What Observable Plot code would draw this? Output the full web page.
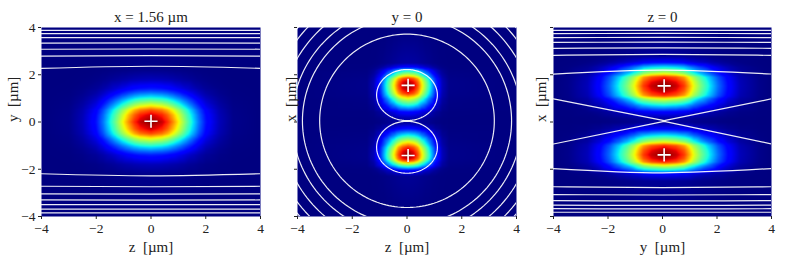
<!DOCTYPE html>
<html><head><meta charset="utf-8">
<script src="https://cdn.jsdelivr.net/npm/d3@7"></script>
<script src="https://cdn.jsdelivr.net/npm/@observablehq/plot@0.6"></script>
<style>
body{margin:0;background:#fff;}
#wrap{position:relative;width:801px;height:267px;overflow:hidden;}
#wrap > svg, #wrap > figure{position:absolute;top:0;margin:0;}
#wrap text{font-family:"Liberation Serif", serif;}
</style></head><body><div id="wrap"></div>
<script>
// ---------- Panel 1: slice x = 1.56 µm (z horizontal, y vertical) ----------
const p1zPos = [-4, -3, -2.5, -2, -1.75, -1.5, -1.3, -1.05, -0.8, -0.6, -0.4, 0, 0.4, 0.6, 0.8, 1.05, 1.3, 1.5, 1.75, 2, 2.5, 3, 4];
const p1zVal = [0, .01, .05, .14, .24, .37, .48, .63, .77, .87, .94, 1, .94, .87, .77, .63, .48, .37, .24, .14, .05, .01, 0];
const p1yPos = [-4, -2.2, -1.8, -1.4, -1.25, -1.05, -0.9, -0.7, -0.5, -0.3, 0, 0.3, 0.5, 0.7, 0.9, 1.05, 1.25, 1.4, 1.8, 2.2, 4];
const p1yVal = [0, .01, .05, .15, .23, .36, .48, .64, .83, .93, 1, .93, .83, .64, .48, .36, .23, .15, .05, .01, 0];
const p1LineEdge = [2.27, 2.79, 3.08, 3.34, 3.57, 3.74, 3.88, -2.19, -2.72, -3.04, -3.3, -3.5, -3.69, -3.85];
const p1LineMid  = [2.36, 2.81, 3.09, 3.35, 3.57, 3.74, 3.88, -2.28, -2.74, -3.05, -3.31, -3.5, -3.69, -3.85];
const p1Peaks = [{x: 0, y: 0.03}];

// ---------- Panel 2: slice y = 0 (z horizontal, x vertical) ----------
const p2zPos = [-4, -1.46, -1.21, -0.96, -0.71, -0.46, -0.31, -0.16, 0.04, 0.24, 0.39, 0.54, 0.79, 1.04, 1.29, 1.54, 4];
const p2zVal = [0, .01, .05, .18, .42, .67, .84, .94, 1, .94, .84, .67, .42, .18, .05, .01, 0];
const p2xPos = [-4, -2.3, -2.05, -1.91, -1.76, -1.63, -1.54, -1.39, -1.24, -1.07, -0.85, -0.57, -0.28, -0.05, 0.15, 0.42, 0.7, 0.98, 1.2, 1.4, 1.55, 1.7, 1.84, 1.97, 2.18, 2.32, 2.5, 4];
const p2xVal = [0, .02, .13, .36, .63, .87, .96, 1, .96, .87, .65, .38, .13, .03, .04, .13, .38, .62, .87, .97, 1, .96, .87, .63, .36, .13, .03, 0];
const p2RingRadii = [3.19, 3.82, 4.2, 4.62, 5.0, 5.26];
const p2RingAspect = 1.15;
const p2RingCenter = {z: 0, x: 0.05};
const p2LobeCz = [0.0, 0.0];
const p2LobeCx = [1.14, -1.07];
const p2LobeRz = [1.11, 1.11];
const p2LobeRx = [1.08, 1.1];
const p2Peaks = [{x: 0.04, y: 1.55}, {x: 0.04, y: -1.42}];

// ---------- Panel 3: slice z = 0 (y horizontal, x vertical) ----------
const p3yPos = [-4, -3.45, -2.75, -2.3, -1.95, -1.6, -1.3, -1.05, -0.7, -0.4, 0.06, 0.5, 0.8, 1.15, 1.4, 1.7, 2.05, 2.4, 2.85, 3.55, 4];
const p3yVal = [0, .01, .05, .13, .23, .37, .5, .63, .85, .94, 1, .94, .85, .63, .5, .37, .23, .13, .05, .01, 0];
const p3xPos = [-4, -2.5, -2.2, -2.05, -1.84, -1.7, -1.55, -1.39, -1.2, -1.0, -0.85, -0.57, -0.29, -0.02, 0.15, 0.42, 0.7, 0.98, 1.12, 1.33, 1.53, 1.7, 1.9, 2.04, 2.32, 2.53, 2.8, 4];
const p3xVal = [0, .02, .12, .36, .63, .87, .96, 1, .96, .87, .63, .36, .12, .02, .03, .12, .36, .63, .87, .96, 1, .96, .87, .63, .36, .12, .02, 0];
const p3LineEdge = [2.03, 2.82, 3.12, 3.37, 3.57, 3.74, 3.88, -1.97, -2.74, -3.07, -3.33, -3.52, -3.67, -3.82];
const p3LineMid  = [2.2, 2.86, 3.14, 3.38, 3.58, 3.75, 3.88, -2.15, -2.78, -3.09, -3.34, -3.53, -3.68, -3.82];
const p3CrossEdge = [0.98, -0.93];
const p3CrossMid = [0.06, 0.03];
const p3Peaks = [{x: 0.06, y: 1.53}, {x: 0.06, y: -1.39}];

// ---------- shared ----------
const titles = ["x = 1.56 µm", "y = 0", "z = 0"];
const xLabels = ["z\u2002[µm]", "z\u2002[µm]", "y\u2002[µm]"];
const yLabels = ["y\u2002[µm]", "x\u2002[µm]", "x\u2002[µm]"];
const ticks = [-4, -2, 0, 2, 4];
const jetStops = [0, 0.11, 0.125, 0.34, 0.35, 0.375, 0.64, 0.65, 0.66, 0.89, 0.91, 1];
const jetColors = ["rgb(0,0,128)", "rgb(0,0,255)", "rgb(0,0,255)", "rgb(0,219,255)", "rgb(0,230,247)", "rgb(21,255,226)", "rgb(239,255,8)", "rgb(247,245,0)", "rgb(255,236,0)", "rgb(255,19,0)", "rgb(232,0,0)", "rgb(128,0,0)"];
const serif = "Liberation Serif";

// table builders
function grid(hPos, hVal, vPos, vVal) {
  const out = [];
  vPos.forEach((vy, j) => hPos.forEach((hx, i) => out.push({x: hx, y: vy, v: hVal[i] * vVal[j]})));
  return out;
}
function bowLines(edge, mid) {
  const out = [];
  edge.forEach((e, i) => { out.push({id: i, x: -4, y: e}, {id: i, x: 0, y: mid[i]}, {id: i, x: 4, y: e}); });
  return out;
}
function ellipses(cz, cx, rz, rx, prefix) {
  const out = [];
  cz.forEach((c, i) => {
    for (let a = 0; a <= 360; a += 2) {
      const t = a * Math.PI / 180;
      out.push({id: prefix + i, x: c + rz[i] * Math.cos(t), y: cx[i] + rx[i] * Math.sin(t)});
    }
  });
  return out;
}

const rings = ellipses(p2RingRadii.map(() => p2RingCenter.z), p2RingRadii.map(() => p2RingCenter.x),
  p2RingRadii, p2RingRadii.map(r => r * p2RingAspect), "r");
const lobes = ellipses(p2LobeCz, p2LobeCx, p2LobeRz, p2LobeRx, "l");
const cross = [];
p3CrossEdge.forEach((e, i) => cross.push({id: i, x: -4, y: e}, {id: i, x: 0.06, y: p3CrossMid[i]}, {id: i, x: 4, y: e}));

const panels = [
  {left: 0, ml: 41, mr: 7, yDx: -28, yTickLabels: true, data: grid(p1zPos, p1zVal, p1yPos, p1yVal),
   curves: [{d: bowLines(p1LineEdge, p1LineMid), curve: "natural"}], peaks: p1Peaks},
  {left: 267, ml: 30, mr: 18, yDx: -6, yTickLabels: false, data: grid(p2zPos, p2zVal, p2xPos, p2xVal),
   curves: [{d: rings, curve: "linear"}, {d: lobes, curve: "linear"}], peaks: p2Peaks},
  {left: 534, ml: 19, mr: 30, yDx: -12, yTickLabels: false, data: grid(p3yPos, p3yVal, p3xPos, p3xVal),
   curves: [{d: bowLines(p3LineEdge, p3LineMid), curve: "natural"}, {d: cross, curve: "linear"}], peaks: p3Peaks}
];

const wrap = document.getElementById("wrap");
panels.forEach((p, k) => {
  const chart = Plot.plot({
    width: 267, height: 267,
    marginLeft: p.ml, marginRight: p.mr, marginTop: 27, marginBottom: 51,
    x: {domain: [-4, 4]},
    y: {domain: [-4, 4]},
    color: {type: "linear", domain: jetStops, range: jetColors, interpolate: "rgb", clamp: true},
    style: {fontFamily: serif, fontSize: "13px", color: "#222", background: "transparent", overflow: "visible"},
    marks: [
      Plot.raster(p.data, {x: "x", y: "y", fill: "v", interpolate: "barycentric"}),
      ...p.curves.map(c => Plot.line(c.d, {x: "x", y: "y", z: "id", stroke: "white", strokeWidth: 1.2, strokeOpacity: 0.92, curve: c.curve, clip: true})),
      Plot.dot(p.peaks, {x: "x", y: "y", symbol: "plus", r: 4.3, stroke: "white", strokeWidth: 1.6}),
      Plot.axisX({ticks, tickSize: 3, tickPadding: 4, label: null, fontSize: 13.5, fontFamily: serif}),
      Plot.axisY({ticks, tickSize: 3, tickPadding: 3, label: null, fontSize: 13.5, fontFamily: serif, tickFormat: p.yTickLabels ? undefined : () => ""}),
      Plot.text([titles[k]], {text: d => d, frameAnchor: "top", lineAnchor: "middle", dy: -10, fontSize: 15, fontFamily: serif}),
      Plot.text([xLabels[k]], {text: d => d, frameAnchor: "bottom", lineAnchor: "middle", dy: 31, fontSize: 15, fontFamily: serif}),
      Plot.text([yLabels[k]], {text: d => d, frameAnchor: "left", lineAnchor: "middle", dx: p.yDx, rotate: -90, fontSize: 15, fontFamily: serif})
    ]
  });
  chart.style.left = p.left + "px";
  wrap.appendChild(chart);
});
</script>
</body></html>
